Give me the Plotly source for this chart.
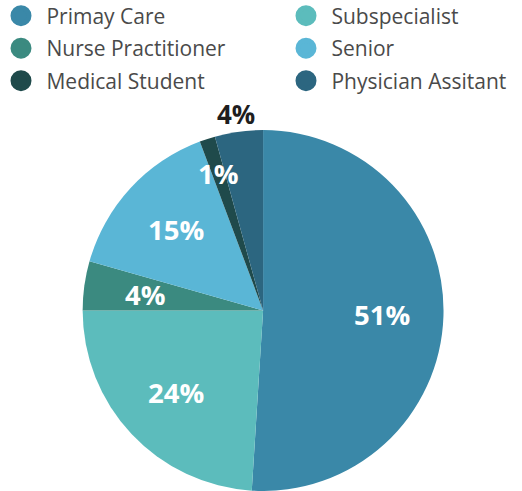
import math
import plotly.graph_objects as go

categories = ["Primay Care", "Subspecialist", "Nurse Practitioner", "Senior", "Medical Student", "Physician Assitant"]
values = [51, 24, 4.4, 14.9, 1.4, 4.3]
colors = ["#3a88a8", "#5cbcbc", "#3b8a80", "#5ab6d6", "#1f4a4b", "#2c6680"]

W, H = 522, 491
label_font = "'Open Sans', sans-serif"

# pie geometry (paper fractions)
dom_x = [0.158, 0.850]
dom_y = [0.0, 0.735]

fig = go.Figure()
fig.add_trace(go.Pie(
    labels=categories, values=values, sort=False, direction="clockwise", rotation=0,
    marker=dict(colors=colors, line=dict(width=0)),
    textinfo="none",
    domain=dict(x=dom_x, y=dom_y), showlegend=False, hoverinfo="label+percent",
))

# percentage labels, placed along each slice's mid-angle
label_radius = [0.66, 0.66, 0.66, 0.66, 0.80, 1.10]
total = sum(values)
cx_px = (dom_x[0] + dom_x[1]) / 2 * W
cy_px = (dom_y[0] + dom_y[1]) / 2 * H
r_px = min((dom_x[1] - dom_x[0]) * W, (dom_y[1] - dom_y[0]) * H) / 2
cum = 0.0
for v, rf in zip(values, label_radius):
    mid = (cum + v / 2) / total * 2 * math.pi
    cum += v
    x_px = cx_px + rf * r_px * math.sin(mid)
    y_px = cy_px + rf * r_px * math.cos(mid)
    outside = rf > 1
    fig.add_annotation(
        x=x_px / W, y=y_px / H, xref="paper", yref="paper",
        xanchor="center", yanchor="middle",
        text="%d%%" % round(v / total * 100), showarrow=False,
        font=dict(family=label_font, size=26 if outside else 27.5,
                  color="#1e1e1e" if outside else "white", weight="bold"),
    )

# legend: one legend box per entry, laid out in 3 rows x 2 columns
col_x = [1 / W, 286 / W]
row_y = [1 - 16 / H, 1 - 48.5 / H, 1 - 81 / H]
layout_legends = {}
for i, (cat, col) in enumerate(zip(categories, colors)):
    lname = "legend" if i == 0 else "legend%d" % (i + 1)
    fig.add_trace(go.Scatter(
        x=[None], y=[None], mode="markers", name="\u00a0" + cat,
        marker=dict(symbol="circle", size=16, color=col, line=dict(width=5, color=col)),
        legend=lname, showlegend=True,
    ))
    layout_legends[lname] = dict(
        orientation="h", x=col_x[i % 2], y=row_y[i // 2],
        xanchor="left", yanchor="middle", itemsizing="trace",
        font=dict(family=label_font, size=21, color="#4a4a4a"),
        bgcolor="rgba(0,0,0,0)",
    )

fig.update_layout(
    width=W, height=H, margin=dict(l=0, r=0, t=0, b=0, autoexpand=False),
    paper_bgcolor="white", plot_bgcolor="white",
    xaxis=dict(visible=False), yaxis=dict(visible=False),
    **layout_legends,
)

fig.write_html("out.html", config={"displayModeBar": False},
               post_script="document.body.style.margin='0';")
